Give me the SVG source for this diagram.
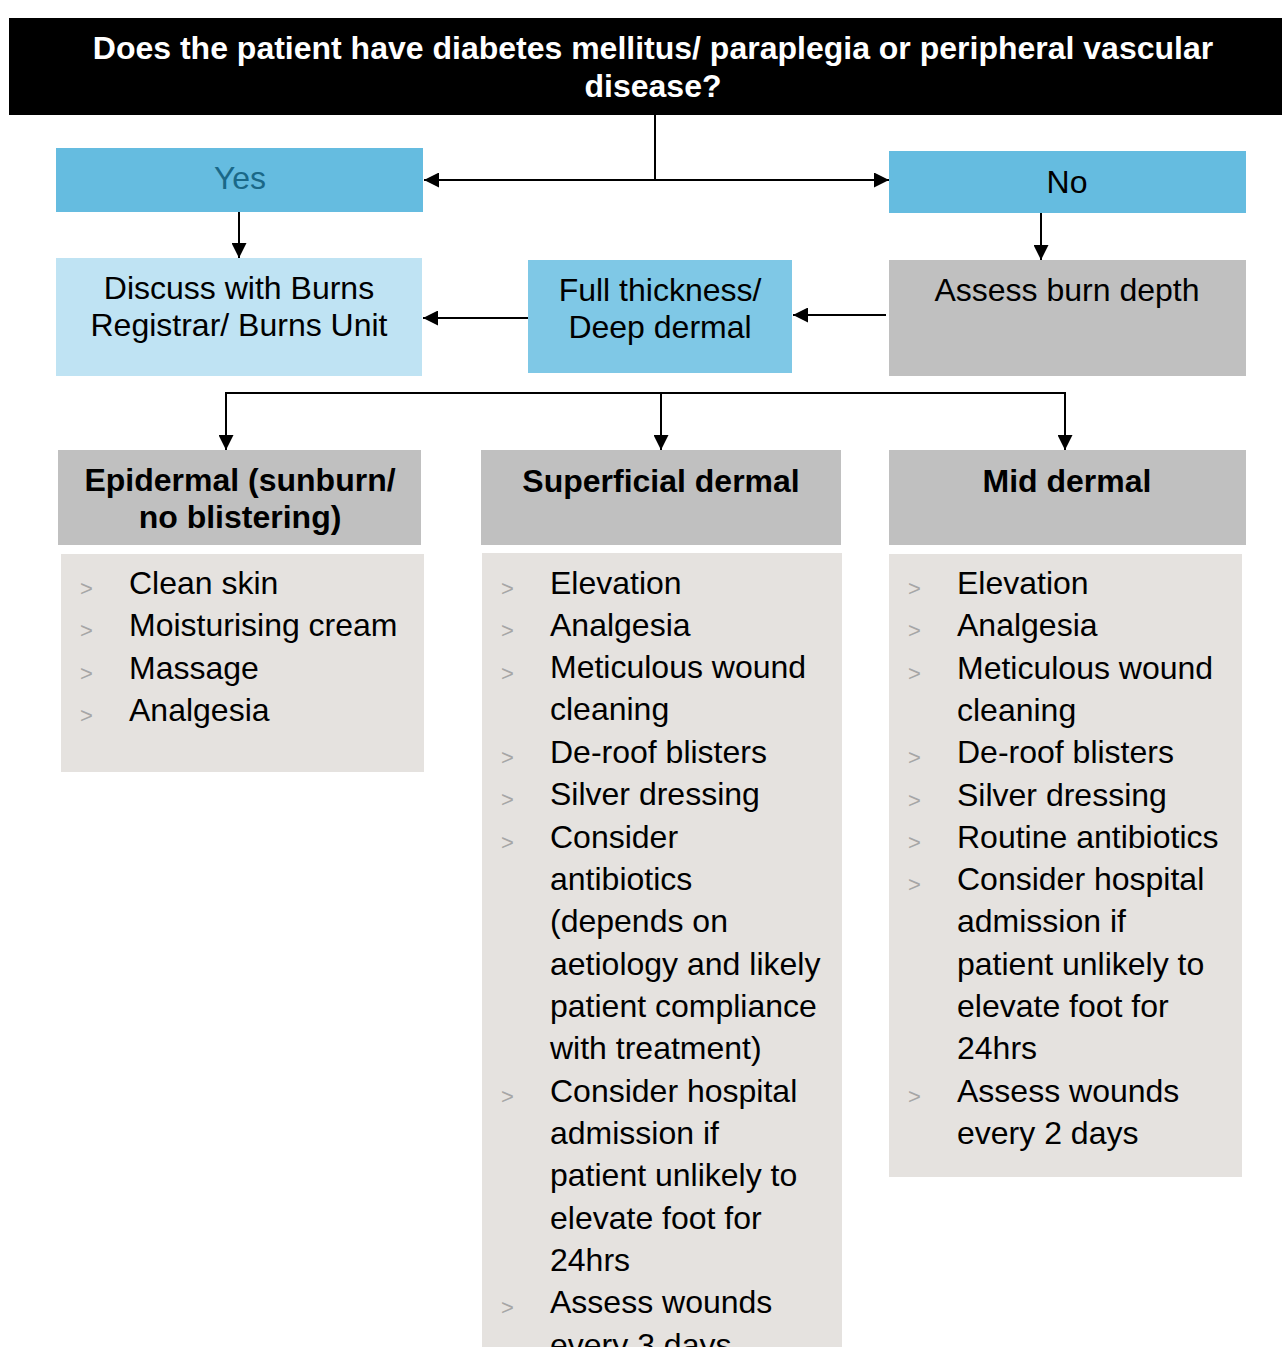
<svg xmlns="http://www.w3.org/2000/svg" width="1282" height="1347" viewBox="0 0 1282 1347">
  <style>
    text { font-family: "Liberation Sans", Arial, sans-serif; font-size: 32px; fill: #000; }
    .c { text-anchor: middle; }
    .b { font-weight: bold; }
    .title { font-size: 32px; font-weight: bold; fill: #fff; text-anchor: middle; }
    .bul { font-size: 22px; fill: #a6a6a6; }
    .conn { fill: none; stroke: #000; stroke-width: 2; }
    .decision { fill: #65bce0; }
    .grey { fill: #c0c0c0; }
    .list { fill: #e5e2df; }
  </style>
  <defs>
    <marker id="arrow" markerUnits="userSpaceOnUse" markerWidth="15" markerHeight="15" viewBox="0 0 15 15" refX="15" refY="7.5" orient="auto">
      <path d="M0,0 L15,7.5 L0,15 Z" fill="#000"/>
    </marker>
  </defs>

  <!-- question -->
  <g id="question">
    <rect x="9" y="18" width="1273" height="97" fill="#000"/>
    <text class="title" x="653" y="59">Does the patient have diabetes mellitus/ paraplegia or peripheral vascular</text>
    <text class="title" x="653" y="97">disease?</text>
  </g>

  <g id="yes">
    <rect class="decision" x="56" y="148" width="367" height="64"/>
    <text class="c" x="240" y="189" style="fill:#1a6888">Yes</text>
  </g>

  <g id="no">
    <rect class="decision" x="889" y="151" width="357" height="62"/>
    <text class="c" x="1067" y="193">No</text>
  </g>

  <g id="discuss">
    <rect x="56" y="258" width="366" height="118" fill="#bfe3f3"/>
    <text class="c" x="239" y="299">Discuss with Burns</text>
    <text class="c" x="239" y="336">Registrar/ Burns Unit</text>
  </g>

  <g id="full-thickness">
    <rect x="528" y="260" width="264" height="113" fill="#7fc8e6"/>
    <text class="c" x="660" y="301">Full thickness/</text>
    <text class="c" x="660" y="338">Deep dermal</text>
  </g>

  <g id="assess">
    <rect class="grey" x="889" y="260" width="357" height="116"/>
    <text class="c" x="1067" y="301">Assess burn depth</text>
  </g>

  <!-- depth categories -->
  <g id="epidermal">
    <rect class="grey" x="58" y="450" width="363" height="95"/>
    <text class="c b" x="240" y="491">Epidermal (sunburn/</text>
    <text class="c b" x="240" y="528">no blistering)</text>
    <rect class="list" x="61" y="554" width="363" height="218"/>
    <text class="bul" x="80" y="596">&gt;</text><text x="129" y="594">Clean skin</text>
    <text class="bul" x="80" y="638">&gt;</text><text x="129" y="636">Moisturising cream</text>
    <text class="bul" x="80" y="681">&gt;</text><text x="129" y="679">Massage</text>
    <text class="bul" x="80" y="723">&gt;</text><text x="129" y="721">Analgesia</text>
  </g>

  <g id="superficial">
    <rect class="grey" x="481" y="450" width="360" height="95"/>
    <text class="c b" x="661" y="492">Superficial dermal</text>
    <rect class="list" x="482" y="553" width="360" height="800"/>
    <text class="bul" x="501" y="596">&gt;</text><text x="550" y="594">Elevation</text>
    <text class="bul" x="501" y="638">&gt;</text><text x="550" y="636">Analgesia</text>
    <text class="bul" x="501" y="681">&gt;</text><text x="550" y="678">Meticulous wound</text>
    <text x="550" y="720">cleaning</text>
    <text class="bul" x="501" y="765">&gt;</text><text x="550" y="763">De-roof blisters</text>
    <text class="bul" x="501" y="807">&gt;</text><text x="550" y="805">Silver dressing</text>
    <text class="bul" x="501" y="850">&gt;</text><text x="550" y="848">Consider</text>
    <text x="550" y="890">antibiotics</text>
    <text x="550" y="932">(depends on</text>
    <text x="550" y="975">aetiology and likely</text>
    <text x="550" y="1017">patient compliance</text>
    <text x="550" y="1059">with treatment)</text>
    <text class="bul" x="501" y="1104">&gt;</text><text x="550" y="1102">Consider hospital</text>
    <text x="550" y="1144">admission if</text>
    <text x="550" y="1186">patient unlikely to</text>
    <text x="550" y="1229">elevate foot for</text>
    <text x="550" y="1271">24hrs</text>
    <text class="bul" x="501" y="1315">&gt;</text><text x="550" y="1313">Assess wounds</text>
    <text x="550" y="1356">every 3 days</text>
  </g>

  <g id="mid">
    <rect class="grey" x="889" y="450" width="357" height="95"/>
    <text class="c b" x="1067" y="492">Mid dermal</text>
    <rect class="list" x="889" y="554" width="353" height="623"/>
    <text class="bul" x="908" y="596">&gt;</text><text x="957" y="594">Elevation</text>
    <text class="bul" x="908" y="638">&gt;</text><text x="957" y="636">Analgesia</text>
    <text class="bul" x="908" y="681">&gt;</text><text x="957" y="679">Meticulous wound</text>
    <text x="957" y="721">cleaning</text>
    <text class="bul" x="908" y="765">&gt;</text><text x="957" y="763">De-roof blisters</text>
    <text class="bul" x="908" y="808">&gt;</text><text x="957" y="806">Silver dressing</text>
    <text class="bul" x="908" y="850">&gt;</text><text x="957" y="848">Routine antibiotics</text>
    <text class="bul" x="908" y="892">&gt;</text><text x="957" y="890">Consider hospital</text>
    <text x="957" y="932">admission if</text>
    <text x="957" y="975">patient unlikely to</text>
    <text x="957" y="1017">elevate foot for</text>
    <text x="957" y="1059">24hrs</text>
    <text class="bul" x="908" y="1104">&gt;</text><text x="957" y="1102">Assess wounds</text>
    <text x="957" y="1144">every 2 days</text>
  </g>

  <!-- connectors -->
  <g id="connectors">
    <path class="conn" d="M655,115 V180 H424" marker-end="url(#arrow)"/>
    <path class="conn" d="M655,180 H889" marker-end="url(#arrow)"/>
    <path class="conn" d="M239,212 V258" marker-end="url(#arrow)"/>
    <path class="conn" d="M1041,213 V260" marker-end="url(#arrow)"/>
    <path class="conn" d="M886,315 H793" marker-end="url(#arrow)"/>
    <path class="conn" d="M528,318 H423" marker-end="url(#arrow)"/>
    <path class="conn" d="M661,393 H226 V450" marker-end="url(#arrow)"/>
    <path class="conn" d="M661,393 H1065 V450" marker-end="url(#arrow)"/>
    <path class="conn" d="M661,393 V450" marker-end="url(#arrow)"/>
  </g>
</svg>
